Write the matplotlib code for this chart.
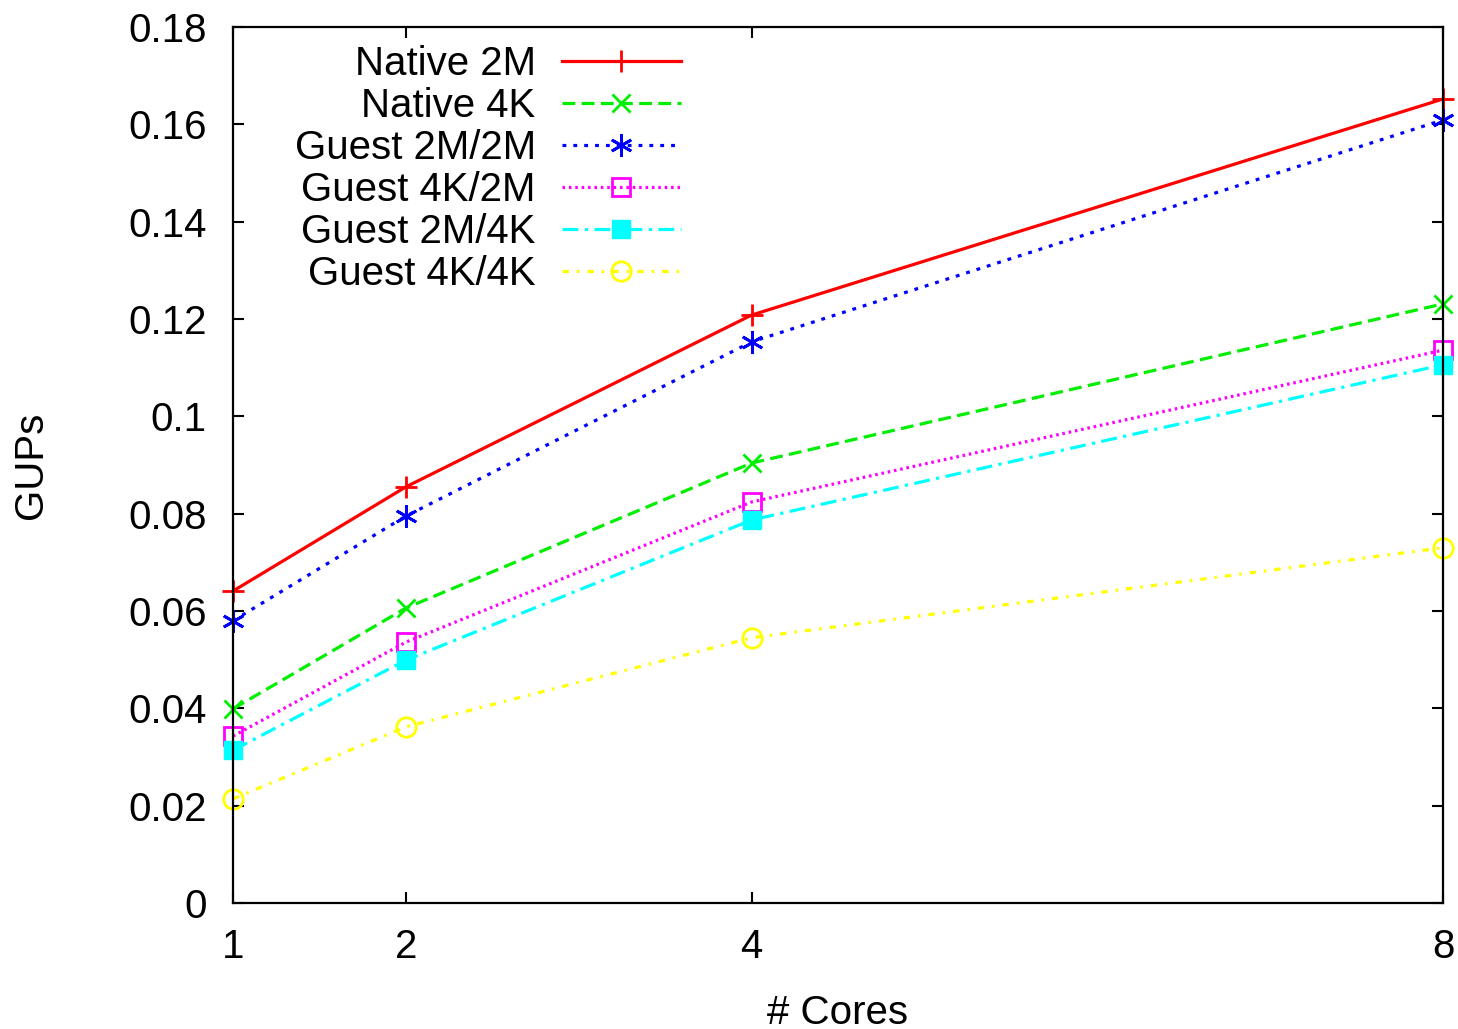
import matplotlib
matplotlib.use("Agg")
import matplotlib.pyplot as plt

# data
cores = [1, 2, 4, 8]
native_2m = [0.0641, 0.0855, 0.1208, 0.1652]
native_4k = [0.0399, 0.0606, 0.0904, 0.1231]
guest_2m_2m = [0.0580, 0.0795, 0.1153, 0.1609]
guest_4k_2m = [0.0343, 0.0536, 0.0824, 0.1136]
guest_2m_4k = [0.0314, 0.0499, 0.0787, 0.1106]
guest_4k_4k = [0.0214, 0.0362, 0.0545, 0.0730]

labels = ['Native 2M', 'Native 4K', 'Guest 2M/2M', 'Guest 4K/2M', 'Guest 2M/4K', 'Guest 4K/4K']
yticks = [0, 0.02, 0.04, 0.06, 0.08, 0.1, 0.12, 0.14, 0.16, 0.18]
yticklabels = ['0', '0.02', '0.04', '0.06', '0.08', '0.1', '0.12', '0.14', '0.16', '0.18']

plt.rcParams['font.family'] = ['Liberation Sans', 'DejaVu Sans']
fs = 29

fig = plt.figure(figsize=(14.58, 10.29), dpi=100)
ax = fig.add_axes([0.1598, 0.1224, 0.9897 - 0.1598, 0.9738 - 0.1224])

lw = 2.3
common = dict(lw=lw, clip_on=False)
ax.plot(cores, native_2m, color='#ff0000', ls='-', marker='+', ms=16, mew=2, label=labels[0], **common)
ax.plot(cores, native_4k, color='#00ee00', ls=(0, (4, 2)), marker='x', ms=13, mew=2, label=labels[1], **common)
ax.plot(cores, guest_2m_2m, color='#0000ff', ls=(0, (1.2, 2.2)), marker=(6, 2, 0), ms=16, mew=2,
        label=labels[2], **common)
ax.plot(cores, guest_4k_2m, color='#ff00ff', ls=(0, (0.8, 1.2)), marker='s', ms=13, mew=2,
        mfc='none', label=labels[3], **common)
ax.plot(cores, guest_2m_4k, color='#00ffff', ls=(0, (5, 2, 1, 2)), marker='s', ms=13, mew=1,
        label=labels[4], **common)
ax.plot(cores, guest_4k_4k, color='#ffff00', ls=(0, (2, 2.5, 0.8, 2.5)), marker='o', ms=14, mew=2,
        mfc='none', label=labels[5], **common)

ax.set_xlim(1, 8)
ax.set_ylim(0, 0.18)
ax.set_xticks(cores)
ax.set_xticklabels([str(c) for c in cores])
ax.set_yticks(yticks)
ax.set_yticklabels(yticklabels)
ax.tick_params(direction='in', length=8, width=1.5, top=True, right=True, labelsize=fs, pad=19)
ax.tick_params(axis='x', pad=18)
for s in ax.spines.values():
    s.set_linewidth(1.6)

ax.set_xlabel('# Cores', fontsize=fs, labelpad=20)
ax.set_ylabel('GUPs', fontsize=fs, labelpad=56)

ax.legend(loc='upper left', bbox_to_anchor=(0.0376, 0.998), frameon=False, markerfirst=False,
          fontsize=fs, handlelength=2.95, handletextpad=0.65, labelspacing=0.1,
          borderaxespad=0.0)

fig.savefig('out.png', dpi=100)
